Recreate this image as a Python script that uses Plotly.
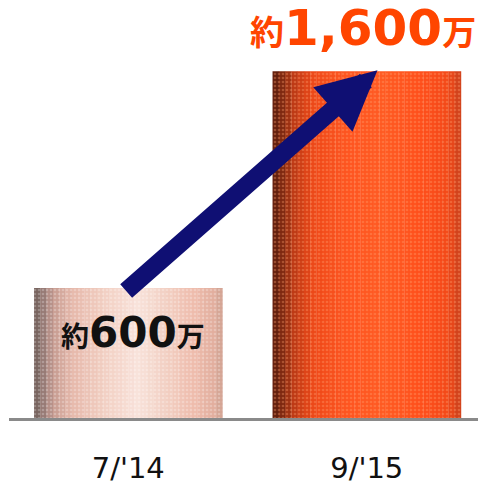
import plotly.graph_objects as go

# ---- data ----
categories = ["7/'14", "9/'15"]
values = [600, 1600]
value_labels = ["約600万", "約1,600万"]

# ---- style ----
BAR_W = 0.79
N_STRIPS = 30
Y_MAX = 1800
stops1 = [(0.0, "#6a5a55"), (0.04, "#8e7470"), (0.10, "#c49a90"), (0.20, "#e6b8aa"),
          (0.40, "#f3d2c6"), (0.55, "#f8e2da"), (0.70, "#f2cfc2"), (0.85, "#eebcac"),
          (0.95, "#e2ae9e"), (1.0, "#cfa090")]
stops2 = [(0.0, "#561a0c"), (0.05, "#7e2810"), (0.12, "#c03a14"), (0.22, "#ee4818"),
          (0.40, "#ff5520"), (0.60, "#ff5a22"), (0.80, "#ff4e1a"), (0.93, "#f24818"),
          (1.0, "#c8401c")]


def hex2rgb(h):
    h = h.lstrip("#")
    return [int(h[i:i + 2], 16) for i in (0, 2, 4)]


def interp(stops, t):
    for (t0, c0), (t1, c1) in zip(stops[:-1], stops[1:]):
        if t0 <= t <= t1:
            f = (t - t0) / (t1 - t0) if t1 > t0 else 0
            a, b = hex2rgb(c0), hex2rgb(c1)
            r = [round(a[i] + (b[i] - a[i]) * f) for i in range(3)]
            return "rgb(%d,%d,%d)" % tuple(r)
    return stops[-1][1]


def styled(label, big):
    # small "約"/"万", large number in the middle
    num = label[1:-1]
    return "<b>%s</b><span style='font-size:%dpx'><b>%s</b></span><b>%s</b>" % (
        label[0], big, num, label[-1])


fig = go.Figure()
sw = BAR_W / N_STRIPS
for k in range(N_STRIPS):
    t = (k + 0.5) / N_STRIPS
    fig.add_trace(go.Bar(
        x=categories, y=values,
        width=[sw * 1.04] * 2, offset=[-BAR_W / 2 + k * sw] * 2,
        marker=dict(color=[interp(stops1, t), interp(stops2, t)], line=dict(width=0)),
        showlegend=False, hoverinfo="skip"))

# subtle dotted texture overlay
fig.add_trace(go.Bar(
    x=categories, y=values, width=[BAR_W] * 2, offset=[-BAR_W / 2] * 2,
    marker=dict(color="rgba(0,0,0,0)", line=dict(width=0),
                pattern=dict(shape=".", size=4, solidity=0.35,
                             fgcolor=["rgba(255,255,255,0.25)", "rgba(255,160,110,0.35)"],
                             fgopacity=1)),
    showlegend=False, hoverinfo="skip"))

NAVY = "#0f0f73"
# arrow from bar 1 top to bar 2 top
tail = (-0.015, values[0] - 20)
head = (1.045, values[1] + 5)
fig.add_trace(go.Scatter(x=[tail[0]], y=[tail[1]], mode="markers",
                         marker=dict(size=18, color=NAVY, line=dict(width=0)),
                         showlegend=False, hoverinfo="skip", cliponaxis=False))
fig.add_annotation(x=head[0], y=head[1], ax=tail[0], ay=tail[1],
                   xref="x", yref="y", axref="x", ayref="y",
                   text="", showarrow=True, arrowhead=2, arrowsize=0.66,
                   arrowwidth=18, arrowcolor=NAVY, standoff=0, startstandoff=0)

FONT = "DejaVu Sans, Verdana, Noto Sans CJK JP, sans-serif"
fig.add_annotation(x=0.02, y=395, xref="x", yref="y", showarrow=False,
                   text=styled(value_labels[0], 42),
                   font=dict(family=FONT, size=28, color="#111111"))
fig.add_annotation(x=0.985, y=0.999, xref="x", yref="paper", yanchor="middle",
                   showarrow=False,
                   text=styled(value_labels[1], 50),
                   font=dict(family=FONT, size=34, color="#ff4500"))

# page body has an 8px margin, so the figure is sized/offset to compensate
fig.update_layout(
    width=478, height=477,
    margin=dict(l=1, r=0, t=20, b=60),
    paper_bgcolor="white", plot_bgcolor="white",
    barmode="overlay",
    xaxis=dict(type="category", range=[-0.5, 1.5], showgrid=False, zeroline=False,
               showline=True, linecolor="#8a8a8a", linewidth=3, ticks="",
               ticklabelstandoff=22,
               tickfont=dict(family=FONT, size=29, color="#111111")),
    yaxis=dict(range=[0, Y_MAX], visible=False, showgrid=False, zeroline=False),
)

fig.write_html("out.html")
